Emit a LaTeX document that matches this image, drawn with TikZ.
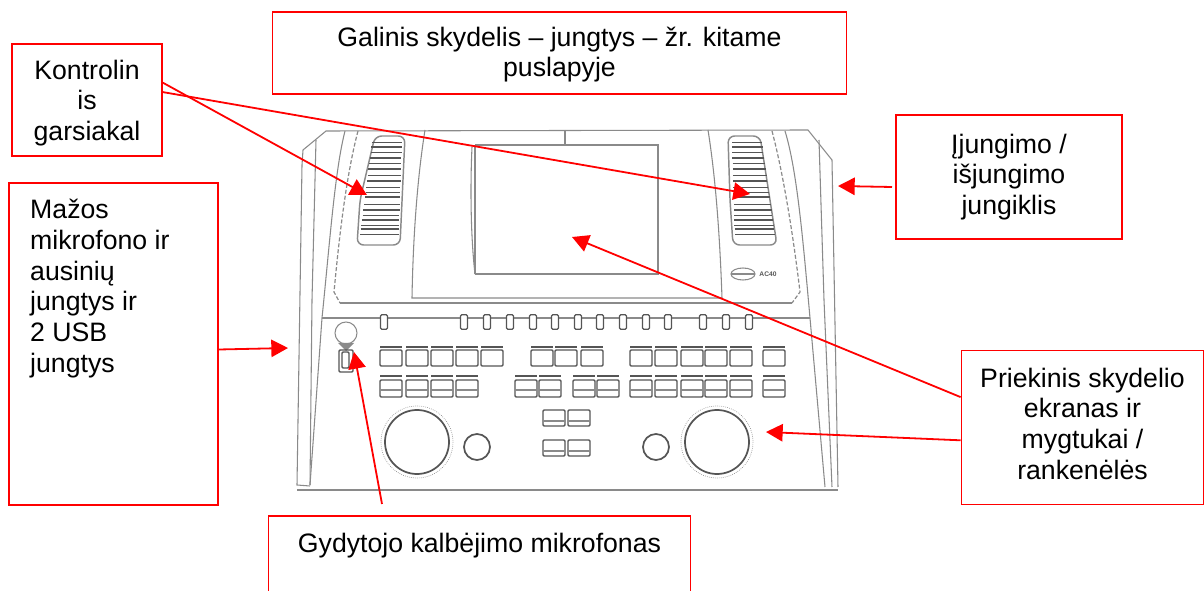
\documentclass[tikz,border=0pt]{standalone}
\usepackage{fontspec}
\setmainfont{Liberation Sans}
\usetikzlibrary{arrows.meta, calc}
\definecolor{vermelho}{HTML}{FF0000}
\definecolor{traco}{HTML}{8A8A8A}
\definecolor{tracoesc}{HTML}{555555}

\begin{document}
\begin{tikzpicture}[x=0.75pt,y=-0.75pt,
    caixa/.style={draw=vermelho, line width=0.9pt, fill=white, align=center, inner sep=0pt,
                  font=\fontsize{20}{23}\selectfont},
    seta/.style={-{Triangle[length=12.5pt,width=13pt]}, line width=1.35pt, vermelho},
    contorno/.style={draw=traco, line width=0.8pt},
    pontilhado/.style={draw=traco, line width=0.9pt, dash pattern=on 3pt off 1.5pt},
    tecla/.style={draw=tracoesc, line width=1.1pt, rounded corners=0.8pt},
    faixa/.style={draw=tracoesc, line width=1.6pt},
    disco/.style={draw=tracoesc, line width=1.3pt},
    deslizador/.style={draw=tracoesc, fill=white, line width=0.9pt, rounded corners=1pt, minimum width=5.2pt, minimum height=11pt, inner sep=0pt}
]
    \useasboundingbox (0,0) rectangle (1204,591);

    % corpo do aparelho
    \draw[contorno] (302,165) -- (303,150) -- (326,131) -- (808,130) -- (832,160) -- (838,487);
    \draw[contorno] (302,165) -- (297,485) -- (310,486);
    \draw[contorno] (297,490) -- (838,490);
    \draw[contorno] (316,140) -- (312,300) -- (310,485);
    \draw[contorno] (322,318) -- (310,485);
    \draw[contorno] (322,318) .. controls (330,240) and (335,170) .. (345,131);
    \draw[contorno] (810,318) .. controls (803,240) and (797,170) .. (785,131);
    \draw[contorno] (810,318) -- (825,487);
    \draw[contorno] (819,140) -- (824,300) -- (832,487);
    \draw[contorno] (322,318) -- (810,318);
    \draw[pontilhado] (358,131) .. controls (345,180) and (338,250) .. (334,292) -- (340,303);
    \draw[pontilhado] (772,131) .. controls (785,180) and (795,250) .. (800,292) -- (792,303);
    \draw[contorno] (340,303) -- (792,303);

    % painel do ecra
    \draw[contorno] (425,130) .. controls (417,180) and (413,240) .. (412,298) -- (722,298) .. controls (720,240) and (716,180) .. (708,130);
    \draw[contorno] (565,130) -- (565,144);
    \draw[draw=traco, line width=1.6pt] (475,145) -- (658,145) -- (658,274) -- (475,274);
    \draw[contorno] (475,145) -- (475,274);
    \draw[contorno] (472,147) .. controls (470,190) and (471,240) .. (475,274);

    % grelhas dos altifalantes
    \draw[draw=traco, line width=1.1pt, rounded corners=5pt] (375,136) -- (405,136) -- (400,245) -- (357,245) -- (360,200) -- cycle;
    \draw[draw=traco, line width=1.1pt, rounded corners=5pt] (728,136) -- (760,136) -- (777,245) -- (733,245) -- (730,200) -- cycle;
    \foreach \y/\w in {142/0.5,147/1,152/0.6,158/1,163/0.6,169/1,175/0.6,181/1,187/0.6,192/0.5,197/1,204/0.6,210/1,215/0.5,220/1,225/0.6,229/1,234/0.5}{
        \draw[draw=tracoesc, line width=\w pt] ({372-(\y-142)*0.13},\y) -- ({402-(\y-142)*0.035},\y);
        \draw[draw=tracoesc, line width=\w pt] ({732+(\y-142)*0.03},\y) -- ({762+(\y-142)*0.14},\y);
    }
    \node[font=\fontsize{5}{5}\bfseries\selectfont, text=tracoesc, inner sep=0pt] (marca) at (768,274) {AC40};
    \draw[contorno] (743,274) ellipse (12 and 6);
    \draw[contorno] (731,274) -- (755,274);

    % linha dos deslizadores
    \foreach \x in {384,464,487,510,533,555,578,600,623,646,668,703,726,749}{
        \node[deslizador] (desl\x) at (\x,322) {};
    }

    % microfone
    \draw[contorno] (346,333) circle (11);
    \fill[traco] (338,343) -- (354,343) -- (346,351) -- cycle;
    \draw[tecla] (339,350) rectangle (353,372);
    \draw[tecla, fill=white] (342,352) rectangle (349,368);

    % teclas
    \foreach \x in {380,406,431,456,481,531,555,581,630,655,681,705,730,763}{
        \draw[tecla] (\x,350) rectangle ++(22,16);
        \draw[faixa] (\x,347) -- ++(22,0);
    }
    \foreach \x in {380,406,431,456,515,539,573,597,630,655,681,705,730,763}{
        \draw[tecla] (\x,380) rectangle ++(22,17);
        \draw[contorno] (\x,390) -- ++(22,0);
        \draw[faixa] (\x,376) -- ++(22,0);
    }
    \foreach \x in {543,568}{
        \foreach \y in {410,440}{
            \draw[tecla] (\x,\y) rectangle ++(22,16);
            \draw[contorno] (\x,{\y+11}) -- ++(22,0);
        }
    }

    % botoes rotativos
    \draw[disco] (417,442) circle (32);
    \draw[draw=traco, line width=0.5pt, densely dotted] (417,442) circle (36);
    \draw[disco] (477,447) circle (13);
    \draw[disco] (656,447) circle (13);
    \draw[disco] (717,442) circle (32);
    \draw[draw=traco, line width=0.5pt, densely dotted] (717,442) circle (36);

    % caixas
    \node[caixa, minimum width=112.5pt, minimum height=84pt] (kontrolinis) at (87,100) {\rule{0pt}{19pt}Kontrolin\\is\\garsiakal};
    \node[caixa, minimum width=431pt, minimum height=61.5pt] (galinis) at (559.5,53) {\rule{0pt}{17pt}Galinis skydelis -- jungtys -- žr. kitame\\puslapyje};
    \node[caixa, minimum width=169.5pt, minimum height=93pt] (ijungimo) at (1009,177) {Įjungimo /\\išjungimo\\jungiklis};
    \node[caixa, minimum width=156.75pt, minimum height=241.5pt, align=left] (mazos) at (113.5,344) {Mažos\rule{66pt}{0pt}\\mikrofono ir\\ausinių\\jungtys ir\\2 USB\\jungtys\\ \\ \\ \\[-4.5pt] };
    \node[caixa, minimum width=182pt, minimum height=116pt] (priekinis) at (1082.5,427.5) {Priekinis skydelio\\ekranas ir\\mygtukai /\\rankenėlės\rule[-6pt]{0pt}{6pt}};
    \node[caixa, minimum width=317pt, minimum height=60pt] (gydytojo) at (479.5,556) {\rule{0pt}{18.5pt}Gydytojo kalbėjimo mikrofonas\\ };

    % destinos das setas
    \coordinate (gradeesq) at (367,195);
    \coordinate (gradedir) at (750,194);
    \coordinate (ecra) at (572,237);
    \coordinate (botao) at (766,432);
    \coordinate (lateraldir) at (838,186);
    \coordinate (lateraldirbase) at (892,187);
    \coordinate (lateralesq) at (288,348);
    \coordinate (micro) at (354,352);
    \coordinate (microbase) at (382,504);

    \draw[seta] (kontrolinis.13.5) -- (gradeesq);
    \draw[seta] (kontrolinis.6) -- (gradedir);
    \draw[seta] (priekinis.166) -- (ecra);
    \draw[seta] (priekinis.186.3) -- (botao);
    \draw[seta] (lateraldirbase) -- (lateraldir);
    \draw[seta] (mazos.-3.5) -- (lateralesq);
    \draw[seta] (microbase) -- (micro);
\end{tikzpicture}
\end{document}
